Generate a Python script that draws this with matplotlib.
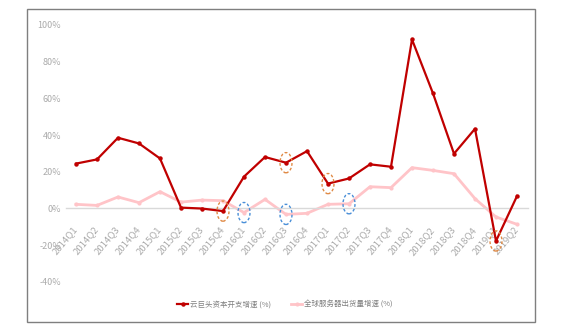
import matplotlib.pyplot as plt
from matplotlib.patches import Ellipse, Rectangle

plt.rcParams['font.family'] = ['Noto Sans CJK SC', 'DejaVu Sans']

# quarters on the x axis
quarters = ['2014Q1', '2014Q2', '2014Q3', '2014Q4', '2015Q1', '2015Q2', '2015Q3', '2015Q4',
            '2016Q1', '2016Q2', '2016Q3', '2016Q4', '2017Q1', '2017Q2', '2017Q3', '2017Q4',
            '2018Q1', '2018Q2', '2018Q3', '2018Q4', '2019Q1', '2019Q2']

# cloud giants capex growth (%)
capex = [24.4, 26.7, 38.5, 35.4, 27.2, 0.4, -0.1, -1.5, 17.3, 28.0, 24.9, 31.2,
         13.5, 16.3, 24.0, 22.7, 92.1, 62.7, 29.8, 43.4, -17.8, 6.7]
# global server shipment growth (%)
servers = [2.2, 1.6, 6.2, 3.1, 9.1, 3.4, 4.5, 4.2, -2.3, 4.9, -3.3, -2.7,
           2.2, 2.5, 11.8, 11.3, 22.2, 20.7, 18.9, 5.3, -4.7, -8.7]

# highlighted points
orange_marks = ['2015Q4', '2016Q3', '2017Q1', '2019Q1']   # on capex line
blue_marks = ['2016Q1', '2016Q3', '2017Q2']               # on server line

W, H = 567, 329
fig = plt.figure(figsize=(W / 100, H / 100), dpi=100)
ax = fig.add_axes([65.5 / W, 1 - 281.7 / H, (527.5 - 65.5) / W, (281.7 - 25) / H])

# axis line at zero first (moving the spine resets the ticks)
for s in ['top', 'right', 'left']:
    ax.spines[s].set_visible(False)
ax.spines['bottom'].set_position(('data', 0))
ax.spines['bottom'].set_color('#D9D9D9')
ax.spines['bottom'].set_linewidth(1)

x = list(range(len(quarters)))
ax.plot(x, servers, color='#FFC4C8', lw=2, marker='o', ms=2, zorder=2,
        label='全球服务器出货量增速 (%)')
ax.plot(x, capex, color='#C00000', lw=1.6, marker='o', ms=2.2, zorder=3,
        label='云巨头资本开支增速 (%)')

for q in orange_marks:
    i = quarters.index(q)
    ax.add_patch(Ellipse((i, capex[i]), 0.57, 11, fill=False, edgecolor='#E08A45',
                         ls=(0, (2, 1.5)), lw=1, zorder=4, clip_on=False))
for q in blue_marks:
    i = quarters.index(q)
    ax.add_patch(Ellipse((i, servers[i]), 0.57, 11, fill=False, edgecolor='#4A8FD8',
                         ls=(0, (2, 1.5)), lw=1, zorder=4, clip_on=False))

ax.set_xlim(-0.5, len(quarters) - 0.5)
ax.set_ylim(-40, 100)
ax.set_yticks(range(-40, 101, 20))
ax.set_yticklabels([f'{v}%' for v in range(-40, 101, 20)])
ax.set_xticks(x)
ax.set_xticklabels(quarters, rotation=50, ha='right', va='center', rotation_mode='anchor')

ax.tick_params(axis='both', length=0, colors='#ABABAB', labelsize=6.5)
ax.tick_params(axis='x', pad=14, labelsize=6.9)
ax.tick_params(axis='y', pad=3)

handles, labels = ax.get_legend_handles_labels()
fig.legend(handles[::-1], labels[::-1], loc='center', bbox_to_anchor=(285 / W, 1 - 305 / H),
           ncol=2, frameon=False, fontsize=5.4, labelcolor='#7F7F7F',
           handlelength=1.5, handletextpad=0.3, columnspacing=2.6)

fig.add_artist(Rectangle((27 / W, 1 - 322 / H), (535 - 27) / W, (322 - 9) / H,
                         transform=fig.transFigure, fill=False, edgecolor='#7F7F7F', lw=1))

fig.savefig('out.png', dpi=100)
